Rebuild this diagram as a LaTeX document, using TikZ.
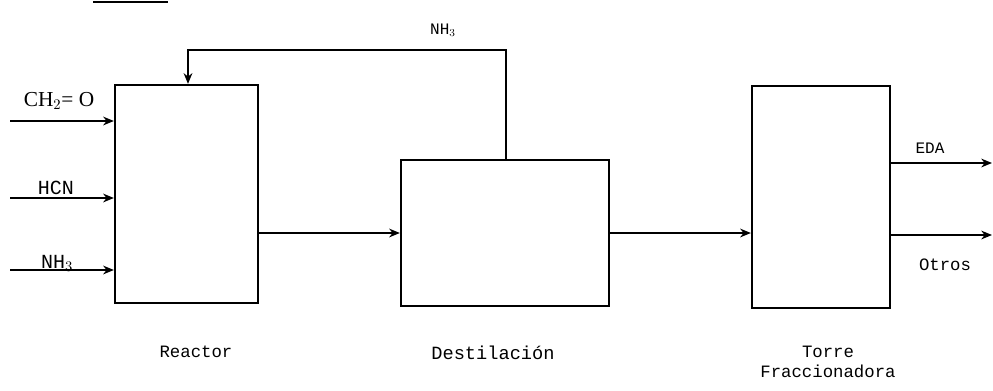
\documentclass[tikz,border=0pt]{standalone}
\usepackage{fontspec}
\setmainfont{Liberation Serif}
\newfontfamily\tw{Liberation Mono}
\usetikzlibrary{arrows.meta}
\begin{document}
\begin{tikzpicture}[x=0.75pt,y=-0.75pt,
  box/.style={draw,line width=1.7pt,rectangle,inner sep=0pt},
  arr/.style={line width=1.5pt,-{Stealth[length=8pt,width=6.5pt,inset=2.5pt]}},
  ln/.style={line width=1.4pt},
  lab/.style={font=\tw\fontsize{12}{14}\selectfont,inner sep=0pt},
  biglab/.style={font=\tw\fontsize{13}{15}\selectfont,inner sep=0pt,align=center}]
\useasboundingbox (0,0) rectangle (993,390);
% underline at top
\draw[ln] (93,2) -- (168,2);
% boxes
\node[box,minimum width=107.25pt,minimum height=163.5pt] (R) at (186.5,194) {};
\node[box,minimum width=156pt,minimum height=109.5pt] (D) at (505,233) {};
\node[box,minimum width=103.5pt,minimum height=166.5pt] (T) at (821,197) {};
% inputs
\coordinate (i1) at (10,121);
\coordinate (i2) at (10,198);
\coordinate (i3) at (10,270);
\draw[arr] (i1) -- (i1 -| R.west);
\draw[arr] (i2) -- (i2 -| R.west);
\draw[arr] (i3) -- (i3 -| R.west);
\node[inner sep=0pt,font=\fontsize{16}{18}\selectfont] (l1) at (59,101) {CH$_2$= O};
\node[lab,font=\tw\fontsize{15}{17}\selectfont] (l2) at (56,188) {HCN};
\node[lab,font=\tw\fontsize{15}{17}\selectfont] (l3) at (57,263) {NH$_3$};
% recycle
\coordinate (fbR) at (188,50);
\coordinate (fbD) at (506,50);
\draw[arr] (fbD |- D.north) -- (fbD) -- (fbR) -- (fbR |- R.north);
\node[lab] (l4) at (443,30) {NH$_3$};
% main flow
\draw[arr] (R.east |- D.west) -- (D.west);
\draw[arr] (D.east) -- (D.east -| T.west);
% outputs
\coordinate (o1) at (992,163);
\coordinate (o2) at (992,235);
\draw[arr] (o1 -| T.east) -- (o1);
\draw[arr] (o2 -| T.east) -- (o2);
\node[lab] (l5) at (930,148) {EDA};
\node[lab,font=\tw\fontsize{13}{15}\selectfont] (l6) at (945,265) {Otros};
% captions
\node[biglab] (c1) at (196,352) {Reactor};
\node[biglab,font=\tw\fontsize{14}{16}\selectfont] (c2) at (493,353) {Destilación};
\node[biglab] (c3) at (828,362) {Torre\\Fraccionadora};
\end{tikzpicture}
\end{document}
